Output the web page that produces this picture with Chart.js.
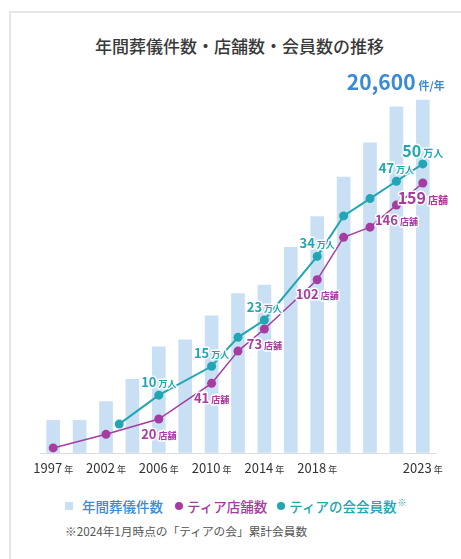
<!DOCTYPE html>
<html lang="ja">
<head>
<meta charset="utf-8">
<script src="https://cdn.jsdelivr.net/npm/chart.js@4.4.1/dist/chart.umd.min.js"></script>
<style>
  html, body { margin: 0; padding: 0; background: #fff; }
  body { width: 461px; height: 559px; position: relative; overflow: hidden;
         font-family: 'Noto Sans CJK JP', 'Noto Sans', sans-serif; }
  .card { position: absolute; left: 9px; top: 11px; right: -10px; bottom: -10px;
          border-left: 2px solid #e6e6e6; border-top: 2px solid #e6e6e6; }
  .title { position: absolute; left: 95px; top: 36px; font-size: 17px; line-height: 20px; color: #383838; white-space: nowrap; font-weight: 500; }
  .chart-box { position: absolute; left: 0; top: 0; width: 461px; height: 490px; }
  .legend { position: absolute; left: 65px; top: 496px; height: 20px; display: flex; align-items: center;
            font-size: 13.5px; white-space: nowrap; font-weight: 500; }
  .legend .sq { width: 8px; height: 8px; background: #c8dff4; margin-right: 9px; }
  .legend .dot { width: 8px; height: 8px; border-radius: 50%; margin-right: 4px; }
  .legend sup { font-size: 9px; vertical-align: 6px; margin-left: 1px; }
  .note { position: absolute; left: 65px; top: 523px; font-size: 11.7px; line-height: 16px; color: #555; white-space: nowrap; }
</style>
</head>
<body>
<div class="card"></div>
<div class="title">年間葬儀件数・店舗数・会員数の推移</div>
<div class="chart-box"><canvas id="chart"></canvas></div>
<div class="legend">
  <span class="sq"></span><span style="color:#3a8ad6">年間葬儀件数</span>
  <span class="dot" style="background:#a63c9f;margin-left:12px"></span><span style="color:#a63c9f">ティア店舗数</span>
  <span class="dot" style="background:#22a6b3;margin-left:10px"></span><span style="color:#22a6b3">ティアの会会員数<sup>※</sup></span>
</div>
<div class="note">※2024年1月時点の「ティアの会」累計会員数</div>
<script>
// Data
const years = ['1997', '', '2002', '', '2006', '', '2010', '', '2014', '', '2018', '', '', '', '2023'];
const funerals = [1900, 1900, 3000, 4300, 6200, 6600, 8000, 9300, 9800, 12000, 13800, 16100, 18100, 20200, 20600];
const stores = [3, null, 11, null, 20, null, 41, 60, 73, null, 102, 127, 133, 146, 159];
const storeTags = [20, 41, 73, 102, 146, 159];
// members start between the 3rd and 4th bar, so they sit on a linear copy of the category axis
const memberPos = [2.5, 4, 6, 7, 8, 10, 11, 12, 13, 14];
const members = [5, 10, 15, 20, 23, 34, 41, 44, 47, 50];
const memberTags = [10, 15, 23, 34, 47, 50];

const BAR = '#c8dff4';
const PURPLE = '#a63c9f';
const TEAL = '#22a6b3';
const FONT = "'Noto Sans CJK JP', 'Noto Sans', sans-serif";

// draw "number + small unit" centred on x, vertically centred on y
function drawTag(ctx, num, unit, x, y, big, color) {
  const nSize = big ? 16 : 13;
  const uSize = big ? 10 : 9;
  ctx.save();
  ctx.font = `600 ${nSize}px ${FONT}`;
  const wn = ctx.measureText(num).width;
  ctx.font = `600 ${uSize}px ${FONT}`;
  const wu = ctx.measureText(unit).width;
  const x0 = x - (wn + 2 + wu) / 2;
  const base = y + nSize * 0.36;
  ctx.textBaseline = 'alphabetic';
  ctx.textAlign = 'left';
  ctx.lineJoin = 'round';
  ctx.strokeStyle = 'rgba(255,255,255,0.9)';
  ctx.lineWidth = 3;
  ctx.fillStyle = color;
  ctx.font = `600 ${nSize}px ${FONT}`;
  ctx.strokeText(num, x0, base);
  ctx.fillText(num, x0, base);
  ctx.font = `600 ${uSize}px ${FONT}`;
  ctx.strokeText(unit, x0 + wn + 2, base);
  ctx.fillText(unit, x0 + wn + 2, base);
  ctx.restore();
}

const tagPlugin = {
  id: 'tags',
  afterDatasetsDraw(chart) {
    const ctx = chart.ctx;
    // total above the last bar
    const bars = chart.getDatasetMeta(0).data;
    const lastBar = bars[bars.length - 1];
    const total = funerals[funerals.length - 1].toLocaleString('en-US');
    ctx.save();
    ctx.font = `700 11px ${FONT}`;
    const wu = ctx.measureText('件/年').width;
    ctx.fillStyle = '#3a8ad6';
    ctx.textBaseline = 'alphabetic';
    ctx.textAlign = 'right';
    const right = lastBar.x + 22;
    const base = lastBar.y - 10;
    ctx.fillText('件/年', right, base);
    ctx.font = `700 21px ${FONT}`;
    ctx.fillText(total, right - wu - 3, base);
    ctx.restore();

    // store tags below points
    const sMeta = chart.getDatasetMeta(1);
    stores.forEach((v, i) => {
      if (v == null || !storeTags.includes(v)) return;
      const p = sMeta.data[i];
      drawTag(ctx, String(v), '店舗', p.x, p.y + 15, i === stores.length - 1, PURPLE);
    });
    // member tags above points
    const mMeta = chart.getDatasetMeta(2);
    members.forEach((v, i) => {
      if (!memberTags.includes(v)) return;
      const p = mMeta.data[i];
      drawTag(ctx, String(v), '万人', p.x, p.y - 13, i === members.length - 1, TEAL);
    });

    // year labels under the axis
    const xs = chart.scales.x;
    const y = chart.chartArea.bottom + 20;
    years.forEach((label, i) => {
      if (!label) return;
      const x = xs.getPixelForValue(i);
      ctx.save();
      ctx.font = `400 13px ${FONT}`;
      const wn = ctx.measureText(label).width;
      ctx.font = `400 9px ${FONT}`;
      const wy = ctx.measureText('年').width;
      const x0 = x - (wn + 2 + wy) / 2;
      ctx.fillStyle = '#333';
      ctx.textBaseline = 'alphabetic';
      ctx.textAlign = 'left';
      ctx.font = `400 13px ${FONT}`;
      ctx.fillText(label, x0, y);
      ctx.font = `400 9px ${FONT}`;
      ctx.fillText('年', x0 + wn + 2, y);
      ctx.restore();
    });
  }
};

new Chart(document.getElementById('chart'), {
  data: {
    labels: years,
    datasets: [
      {
        type: 'bar',
        label: '年間葬儀件数',
        data: funerals,
        backgroundColor: BAR,
        barThickness: 13,
        grouped: false,
        yAxisID: 'y',
        order: 3,
      },
      {
        type: 'line',
        label: 'ティア店舗数',
        data: stores,
        borderColor: PURPLE,
        backgroundColor: PURPLE,
        borderWidth: 1.5,
        pointRadius: 4.5,
        pointBorderWidth: 0,
        spanGaps: true,
        tension: 0,
        yAxisID: 'ys',
        order: 2,
      },
      {
        type: 'line',
        label: 'ティアの会会員数',
        data: memberPos.map((x, i) => ({ x, y: members[i] })),
        borderColor: TEAL,
        backgroundColor: TEAL,
        borderWidth: 2,
        pointRadius: 4.5,
        pointBorderWidth: 0,
        tension: 0,
        xAxisID: 'xl',
        yAxisID: 'ym',
        order: 1,
      }
    ]
  },
  options: {
    responsive: true,
    maintainAspectRatio: false,
    animation: false,
    layout: { padding: { left: 40, right: 25, top: 76, bottom: 37 } },
    plugins: {
      legend: { display: false },
      tooltip: { enabled: false },
    },
    scales: {
      x: { type: 'category', display: false, offset: true },
      xl: { type: 'linear', display: false, min: -0.5, max: 14.5 },
      y: {
        min: 0,
        max: 22000,
        ticks: { display: false, stepSize: 5000 },
        border: { display: false },
        grid: {
          drawTicks: false,
          color: (c) => (c.tick && c.tick.value % 5000 === 0) ? '#dcdcdc' : 'transparent',
        },
      },
      ys: { display: false, min: 0, max: 222 },
      ym: { display: false, min: 0, max: 65.2 },
    }
  },
  plugins: [tagPlugin]
});
</script>
</body>
</html>
